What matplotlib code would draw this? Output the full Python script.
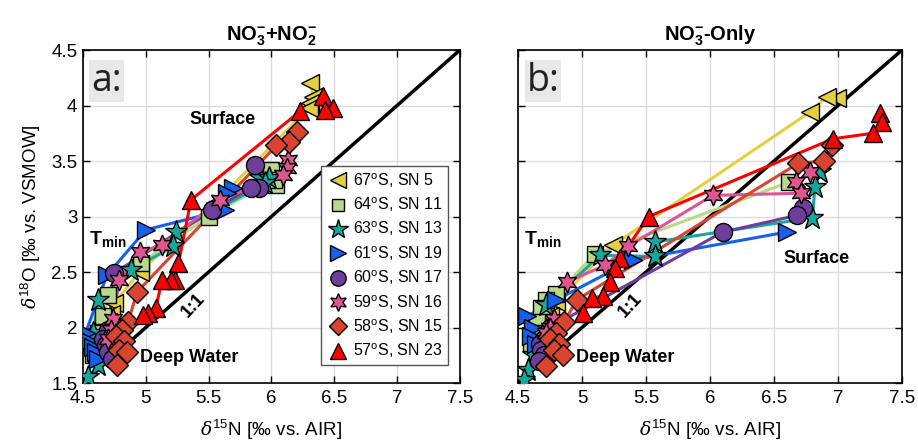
import matplotlib
matplotlib.use("Agg")
import matplotlib.pyplot as plt
from matplotlib.lines import Line2D

plt.rcParams['font.family'] = ['Liberation Sans', 'DejaVu Sans']
plt.rcParams['mathtext.fontset'] = 'custom'
plt.rcParams['mathtext.rm'] = 'Liberation Sans'
plt.rcParams['mathtext.bf'] = 'Liberation Sans:bold'
plt.rcParams['mathtext.it'] = 'DejaVu Serif:italic'

labels = [r'67$^{\rm o}$S, SN 5', r'64$^{\rm o}$S, SN 11', r'63$^{\rm o}$S, SN 13',
          r'61$^{\rm o}$S, SN 19', r'60$^{\rm o}$S, SN 17', r'59$^{\rm o}$S, SN 16',
          r'58$^{\rm o}$S, SN 15', r'57$^{\rm o}$S, SN 23']
colors = ['#E2D03E', '#B9D889', '#16A89B', '#1560EE', '#6E3E9B', '#DE5590', '#D84430', '#FF0000']
markers = ['<', 's', '*', '>', 'o', (6, 1, 0), 'D', '^']
msizes = [13, 11, 17, 13, 13, 15, 11, 13]

# Panel a: NO3- + NO2-  (surface -> deep)
a_n15 = [
    [6.31, 6.33, 6.31, 6.30, 5.55, 4.95, 4.75, 4.72, 4.70, 4.68],
    [6.00, 6.04, 6.02, 5.50, 4.96, 4.70, 4.66, 4.62, 4.60, 4.58],
    [5.91, 5.98, 5.95, 5.24, 5.22, 4.88, 4.62, 4.58, 4.62, 4.54],
    [5.69, 5.65, 5.63, 5.00, 4.69, 4.52, 4.55, 4.58, 4.60, 4.62],
    [5.87, 5.90, 5.84, 5.53, 4.75, 4.70, 4.66, 4.68, 4.70, 4.73],
    [6.13, 6.12, 6.09, 5.59, 5.13, 4.95, 4.79, 4.74, 4.72, 4.70],
    [6.20, 6.14, 6.04, 4.93, 4.86, 4.81, 4.76, 4.83, 4.79, 4.85, 4.77],
    [6.41, 6.49, 6.43, 6.23, 5.36, 5.26, 5.23, 5.20, 5.13, 5.08, 5.02, 4.98],
]
a_o18 = [
    [4.20, 4.08, 4.02, 3.98, 3.12, 2.50, 2.22, 2.12, 2.05, 1.98],
    [3.42, 3.28, 3.33, 3.00, 2.58, 2.29, 2.10, 1.95, 1.82, 1.75],
    [3.35, 3.35, 3.30, 2.86, 2.73, 2.52, 2.25, 1.95, 1.66, 1.55],
    [3.26, 3.21, 3.06, 2.88, 2.47, 1.95, 1.88, 1.82, 1.78, 1.72],
    [3.46, 3.26, 3.26, 3.06, 2.49, 1.98, 1.90, 1.84, 1.78, 1.72],
    [3.51, 3.44, 3.37, 3.15, 2.74, 2.68, 2.43, 2.08, 1.98, 1.90],
    [3.76, 3.67, 3.64, 2.32, 2.05, 1.98, 1.92, 1.88, 1.80, 1.78, 1.66],
    [4.09, 3.98, 3.96, 3.95, 3.15, 2.58, 2.43, 2.43, 2.43, 2.18, 2.13, 2.11],
]

# Panel b: NO3- only (surface -> deep)
b_n15 = [
    [6.99, 6.91, 6.78, 5.24, 4.80, 4.75, 4.72, 4.70],
    [6.62, 5.10, 4.80, 4.72, 4.68, 4.65, 4.62, 4.60],
    [6.86, 6.82, 6.80, 5.57, 5.57, 5.14, 4.72, 4.62, 4.58, 4.55],
    [6.60, 5.40, 4.80, 4.57, 4.62, 4.60, 4.64],
    [6.73, 6.68, 6.10, 4.75, 4.70, 4.67, 4.68, 4.70, 4.66],
    [6.78, 6.67, 6.71, 6.02, 5.36, 5.18, 4.88, 4.78, 4.75, 4.72],
    [6.95, 6.89, 6.69, 4.96, 4.86, 4.80, 4.75, 4.82, 4.78, 4.85, 4.72],
    [7.33, 7.34, 7.27, 6.96, 5.52, 5.30, 5.26, 5.22, 5.16, 5.08, 5.01],
]
b_o18 = [
    [4.07, 4.08, 3.94, 2.74, 2.23, 2.10, 2.02, 1.95],
    [3.31, 2.66, 2.30, 2.25, 2.18, 2.05, 1.95, 1.85],
    [3.40, 3.27, 2.99, 2.77, 2.64, 2.65, 2.20, 1.75, 1.62, 1.53],
    [2.86, 2.61, 2.25, 2.10, 2.00, 1.92, 1.85],
    [3.08, 3.01, 2.86, 2.00, 1.90, 1.85, 1.80, 1.75, 1.70],
    [3.40, 3.31, 3.21, 3.19, 2.73, 2.56, 2.41, 2.08, 2.00, 1.95],
    [3.64, 3.50, 3.48, 2.25, 2.05, 1.95, 1.90, 1.85, 1.80, 1.75, 1.65],
    [3.93, 3.85, 3.75, 3.70, 3.00, 2.63, 2.54, 2.41, 2.28, 2.27, 2.13],
]

one_to_one_x = [4.5, 7.5]
xticks = [4.5, 5, 5.5, 6, 6.5, 7, 7.5]
yticks = [1.5, 2, 2.5, 3, 3.5, 4, 4.5]
xticklabels = ['4.5', '5', '5.5', '6', '6.5', '7', '7.5']
yticklabels = ['1.5', '2', '2.5', '3', '3.5', '4', '4.5']

fig = plt.figure(figsize=(9.18, 4.41), dpi=100)
axa = fig.add_axes([0.0904, 0.1315, 0.4106, 0.7551])
axb = fig.add_axes([0.5643, 0.1315, 0.4183, 0.7551])


def draw(ax, xs, ys, letter, title, surf_xy):
    ax.set_xlim(4.5, 7.5)
    ax.set_ylim(1.5, 4.5)
    ax.grid(True, color='#dcdcdc', linewidth=1.0)
    ax.set_axisbelow(True)
    ax.plot(one_to_one_x, [v - 3 for v in one_to_one_x], color='black', lw=2.5, zorder=2)
    for i in range(len(xs)):
        ax.plot(xs[i], ys[i], color=colors[i], lw=2.2, zorder=3)
    for i in range(len(xs)):
        ax.plot(xs[i], ys[i], linestyle='none', marker=markers[i], ms=msizes[i],
                mfc=colors[i], mec='black', mew=1.0, zorder=4 + i)
    ax.set_xticks(xticks)
    ax.set_xticklabels(xticklabels)
    ax.set_yticks(yticks)
    ax.tick_params(direction='in', top=True, right=True, labelsize=13.5, length=5, width=1)
    ax.tick_params(axis='x', pad=5)
    ax.tick_params(axis='y', pad=4)
    for s in ax.spines.values():
        s.set_linewidth(1.2)
    ax.set_xlabel(r'$\delta^{15}$N [‰ vs. AIR]', fontsize=13.5, labelpad=8)
    ax.set_title(title, fontsize=14.5, fontweight='bold', pad=7)
    ax.text(0.022, 0.965, letter, transform=ax.transAxes, fontsize=27, family='Open Sans',
            color='#222222', va='top', ha='left', zorder=20,
            bbox=dict(boxstyle='square,pad=0.05', fc='#e8e8e8', ec='none'))
    ax.text(surf_xy[0], surf_xy[1], 'Surface', fontsize=13, fontweight='bold', ha='center', va='center', zorder=20)
    ax.text(4.55, 2.8, r'$\mathbf{T_{min}}$', fontsize=14, ha='left', va='center', zorder=20)
    ax.text(4.95, 1.73, 'Deep Water', fontsize=13, fontweight='bold', ha='left', va='center', zorder=20)
    ax.text(5.38, 2.2, '1:1', fontsize=13, fontweight='bold', rotation=47, ha='center', va='center', zorder=20)


draw(axa, a_n15, a_o18, 'a:', r'$\mathbf{NO_3^{-}{+}NO_2^{-}}$', (5.61, 3.87))
axa.set_yticklabels(yticklabels)
axa.set_ylabel(r'$\delta^{18}$O [‰ vs. VSMOW]', fontsize=13.5, labelpad=6)

draw(axb, b_n15, b_o18, 'b:', r'$\mathbf{NO_3^{-}}$-Only', (6.83, 2.62))
axb.set_yticklabels([])

handles = [Line2D([], [], linestyle='none', marker=markers[i], ms=msizes[i] * 0.85,
                  mfc=colors[i], mec='black', mew=1.0) for i in range(len(labels))]
leg = axa.legend(handles, labels, loc='lower right', fontsize=11.5, frameon=True, fancybox=False,
                 edgecolor='#555555', framealpha=1, handletextpad=0.2, borderpad=0.3,
                 labelspacing=0.36, handlelength=1.5, bbox_to_anchor=(0.99, 0.03))
leg.set_zorder(30)

fig.savefig('out.png', dpi=100)
